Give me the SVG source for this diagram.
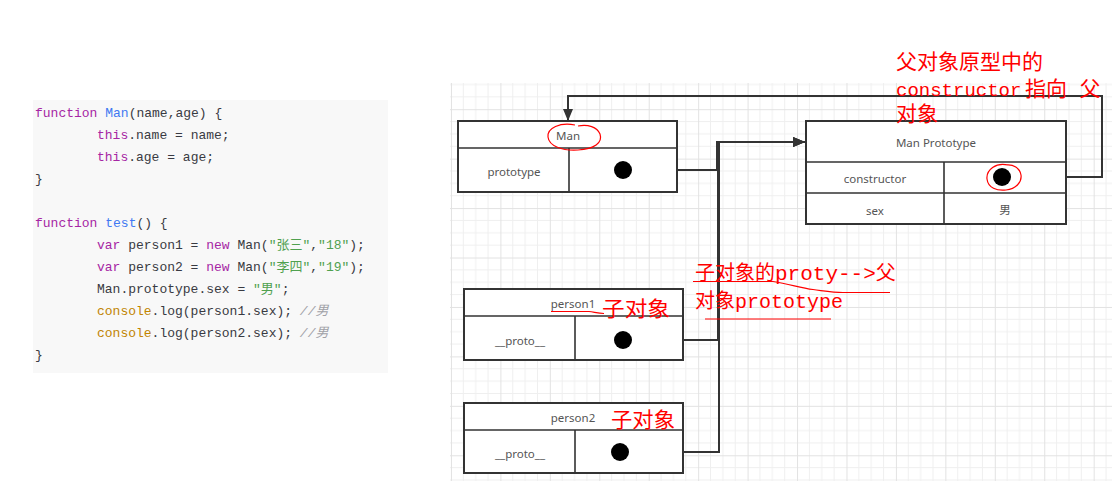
<svg xmlns="http://www.w3.org/2000/svg" width="1112" height="502" viewBox="0 0 1112 502">
<style>
.code{font-family:"Liberation Mono","Noto Sans CJK SC",monospace;font-size:13px;fill:#383a42}
.kw{fill:#a626a4}.fn{fill:#4078f2}.str{fill:#50a14f}.bi{fill:#c18401}.cm{fill:#a0a1a7;font-style:italic}
.box{fill:#ffffff;stroke:#333333;stroke-width:2}
.div{stroke:#333333;stroke-width:1.6;fill:none}
.lbl{font-family:"Noto Sans","Liberation Sans","Noto Sans CJK SC",sans-serif;font-size:11.5px;fill:#555555;text-anchor:middle;dominant-baseline:central}
.dot{fill:#000000}
.conn{fill:none;stroke:#333333;stroke-width:2}
.red{font-family:"Liberation Mono","Noto Sans CJK SC",monospace;fill:#ff0000}
.redl{fill:none;stroke:#ff0000;stroke-width:1.2}
</style>
<defs>
<pattern id="grid" patternUnits="userSpaceOnUse" x="500.4" y="109.2" width="49.44" height="49.44">
<path d="M12.36 0V49.44M24.72 0V49.44M37.08 0V49.44M0 12.36H49.44M0 24.72H49.44M0 37.08H49.44" stroke="#efefef" stroke-width="1" fill="none"/>
<path d="M0.5 0V49.44M0 0.5H49.44" stroke="#e2e2e2" stroke-width="1" fill="none"/>
</pattern>
<marker id="arr" markerWidth="12" markerHeight="10" refX="12" refY="5" orient="auto" markerUnits="userSpaceOnUse">
<path d="M0 0L12 5L0 10Z" fill="#333333"/>
</marker>
</defs>
<rect width="1112" height="502" fill="#ffffff"/>

<!-- code panel -->
<g id="code">
<rect x="33" y="100" width="355" height="273" fill="#f8f8f8"/>
<text class="code" x="35" y="117"><tspan class="kw">function</tspan> <tspan class="fn">Man</tspan>(name,age) {</text>
<text class="code" x="97" y="139"><tspan class="kw">this</tspan>.name = name;</text>
<text class="code" x="97" y="161"><tspan class="kw">this</tspan>.age = age;</text>
<text class="code" x="35" y="183">}</text>
<text class="code" x="35" y="227"><tspan class="kw">function</tspan> <tspan class="fn">test</tspan>() {</text>
<text class="code" x="97" y="249"><tspan class="kw">var</tspan> person1 = <tspan class="kw">new</tspan> Man(<tspan class="str">"张三"</tspan>,<tspan class="str">"18"</tspan>);</text>
<text class="code" x="97" y="271"><tspan class="kw">var</tspan> person2 = <tspan class="kw">new</tspan> Man(<tspan class="str">"李四"</tspan>,<tspan class="str">"19"</tspan>);</text>
<text class="code" x="97" y="293">Man.prototype.sex = <tspan class="str">"男"</tspan>;</text>
<text class="code" x="97" y="315"><tspan class="bi">console</tspan>.log(person1.sex); <tspan class="cm">//男</tspan></text>
<text class="code" x="97" y="337"><tspan class="bi">console</tspan>.log(person2.sex); <tspan class="cm">//男</tspan></text>
<text class="code" x="35" y="359">}</text>
</g>

<!-- grid background -->
<rect x="450" y="83" width="662" height="398" fill="url(#grid)"/>

<!-- connectors -->
<g id="connectors">
<path class="conn" d="M623 170H717V142H805" marker-end="url(#arr)"/>
<path class="conn" d="M623 340H718V142H805" marker-end="url(#arr)"/>
<path class="conn" d="M620 452H719V142H805" marker-end="url(#arr)"/>
<path class="conn" d="M1002 177H1102V96H568V121" marker-end="url(#arr)"/>
</g>

<g id="man">
<rect class="box" x="458" y="121" width="219" height="71"/>
<path class="div" d="M458 148H677M569 148V192"/>
<text class="lbl" x="568" y="135">Man</text>
<text class="lbl" x="514" y="171">prototype</text>
<circle class="dot" cx="623" cy="170" r="9"/>
<path class="redl" d="M575 125C560 122 547 128 548 137C549 146 562 151 578 150C594 149 603 143 600 134C597 127 588 124 578 126"/>
</g>

<g id="man-prototype">
<rect class="box" x="806" y="121" width="260" height="103"/>
<path class="div" d="M806 162H1066M806 193H1066M944 162V224"/>
<text class="lbl" x="936" y="142">Man Prototype</text>
<text class="lbl" x="875" y="178">constructor</text>
<text class="lbl" x="875" y="210">sex</text>
<text class="lbl" x="1005" y="209">男</text>
<circle class="dot" cx="1002" cy="177" r="9"/>
<path class="redl" d="M1008 165C996 162 986 170 987 179C988 188 997 191 1006 190C1016 189 1022 182 1021 175C1020 168 1013 164 1006 165"/>
</g>

<g id="person1">
<rect class="box" x="464" y="289" width="219" height="71"/>
<path class="div" d="M464 316H683M575 316V360"/>
<text class="lbl" x="573" y="303">person1</text>
<text class="lbl" x="520" y="340">__proto__</text>
<circle class="dot" cx="623" cy="340" r="9"/>
</g>

<g id="person2">
<rect class="box" x="464" y="403" width="219" height="70"/>
<path class="div" d="M464 430H683M575 430V473"/>
<text class="lbl" x="573" y="417">person2</text>
<text class="lbl" x="520" y="453">__proto__</text>
<circle class="dot" cx="620" cy="452" r="9"/>
</g>

<!-- red annotations -->
<g id="annotations">
<text class="red" font-size="21" x="896" y="69">父对象原型中的</text>
<text class="red" font-size="19" x="896" y="96">constructor</text>
<text class="red" font-size="21" x="1025" y="96">指向 父</text>
<text class="red" font-size="21" x="896" y="121">对象</text>

<text class="red" font-size="20" x="695" y="280">子对象的<tspan font-size="21">proty--&gt;</tspan>父</text>
<text class="red" font-size="20" x="695" y="308">对象prototype</text>
<path class="redl" d="M693 281.5H773C790 284 800 288 813 289.5C825 291 833 292.5 843 292.5H890"/>
<path class="redl" d="M705 319H831"/>

<text class="red" font-size="21" x="602" y="316" textLength="68" lengthAdjust="spacingAndGlyphs">子对象</text>
<path class="redl" d="M551 311.5H589C594 312 598 313.5 604 313.5"/>

<text class="red" font-size="21" x="611" y="427" textLength="64" lengthAdjust="spacingAndGlyphs">子对象</text>
</g>
</svg>
